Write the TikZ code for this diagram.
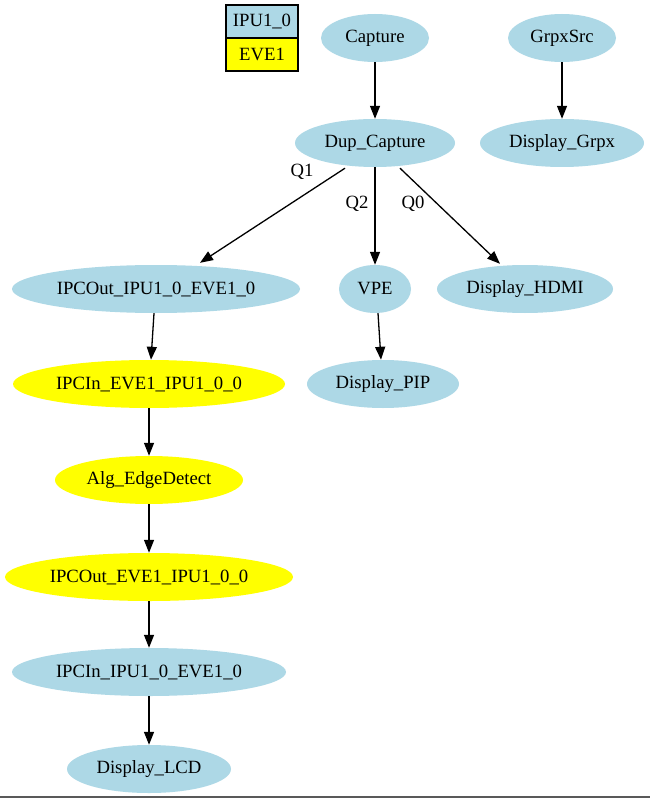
\documentclass[tikz,border=0pt]{standalone}
\usepackage{fontspec}
\setmainfont{Liberation Serif}
\usetikzlibrary{shapes.geometric,arrows.meta}
\definecolor{lblue}{HTML}{ADD8E6}
\definecolor{yel}{HTML}{FFFF00}
\tikzset{
  ell/.style={ellipse, fill=#1, draw=none, inner sep=0pt, minimum height=48pt, font=\fontsize{18.7pt}{21pt}\selectfont},
  ell/.default=lblue,
  arr/.style={draw=black, line width=1.3pt, -{Triangle[length=13pt,width=10pt]}},
  lbl/.style={font=\fontsize{18.7pt}{21pt}\selectfont, inner sep=0pt},
  leg/.style={draw=black, line width=1.2pt, minimum width=72pt, minimum height=33pt, inner sep=0pt, font=\fontsize{18.7pt}{21pt}\selectfont}
}
\begin{document}
\begin{tikzpicture}[x=1pt,y=-1pt]
\useasboundingbox (0,0) rectangle (650,799);
\fill[white] (0,0) rectangle (650,799);
\draw[gray!70!black, line width=1.5pt] (0,797) coordinate (bl) -- (650,797) coordinate (br);
% legend
\node[leg, fill=lblue] (legA) at (262,21.5) {IPU1\_0};
\node[leg, fill=yel] (legB) at (262,54.5) {EVE1};
% nodes
\node[ell, minimum width=108pt] (cap) at (375,38) {Capture};
\node[ell, minimum width=108pt] (grpx) at (562,38) {GrpxSrc};
\node[ell, minimum width=160pt] (dup) at (375,143) {Dup\_Capture};
\node[ell, minimum width=164pt] (dgrpx) at (562,143) {Display\_Grpx};
\node[ell, minimum width=288pt] (ipcout1) at (156,289) {IPCOut\_IPU1\_0\_EVE1\_0};
\node[ell, minimum width=72pt] (vpe) at (375,289) {VPE};
\node[ell, minimum width=176pt] (hdmi) at (525,289) {Display\_HDMI};
\node[ell, minimum width=152pt] (pip) at (383,384) {Display\_PIP};
\node[ell=yel, minimum width=272pt] (ipcin1) at (149,384) {IPCIn\_EVE1\_IPU1\_0\_0};
\node[ell=yel, minimum width=188pt] (alg) at (149,480) {Alg\_EdgeDetect};
\node[ell=yel, minimum width=288pt] (ipcout2) at (149,577) {IPCOut\_EVE1\_IPU1\_0\_0};
\node[ell, minimum width=274pt] (ipcin2) at (149,672) {IPCIn\_IPU1\_0\_EVE1\_0};
\node[ell, minimum width=164pt] (lcd) at (149,769) {Display\_LCD};
% edges
\draw[arr] (cap) -- (dup);
\draw[arr] (grpx) -- (dgrpx);
\draw[arr] ([xshift=-30pt,yshift=-1pt]dup.south) -- ([xshift=44pt,yshift=2pt]ipcout1.north);
\draw[arr] (dup) -- (vpe);
\draw[arr] ([xshift=25pt,yshift=-1pt]dup.south) -- ([xshift=-25pt,yshift=1pt]hdmi.north);
\draw[arr] ([xshift=-2pt]ipcout1.south) -- ([xshift=2pt]ipcin1.north);
\draw[arr] ([xshift=3pt]vpe.south) -- ([xshift=-2pt]pip.north);
\draw[arr] (ipcin1) -- (alg);
\draw[arr] (alg) -- (ipcout2);
\draw[arr] (ipcout2) -- (ipcin2);
\draw[arr] (ipcin2) -- (lcd);
% labels
\node[lbl] (q1) at (302,172) {Q1};
\node[lbl] (q2) at (357,204) {Q2};
\node[lbl] (q0) at (413,204) {Q0};
\end{tikzpicture}
\end{document}
